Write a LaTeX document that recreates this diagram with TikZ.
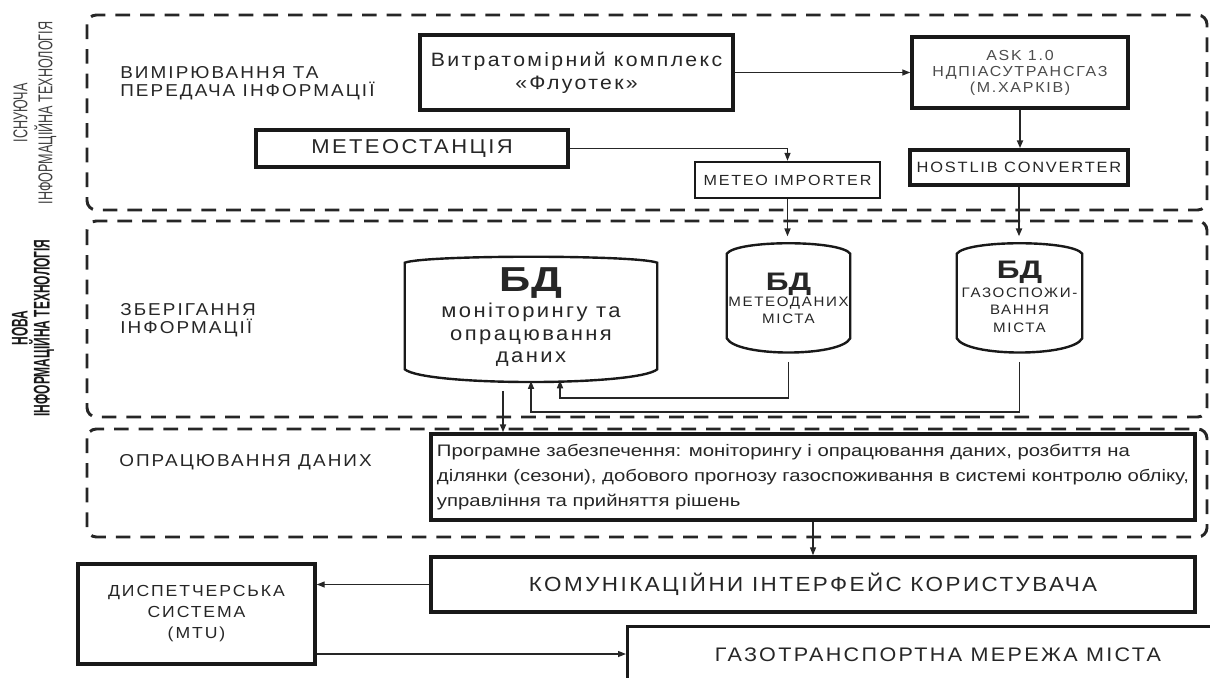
\documentclass[tikz,border=0pt]{standalone}
\usepackage{fontspec}
\setmainfont{Liberation Sans}
\newfontfamily\spacedfont{Liberation Sans}[FakeStretch=1.1, LetterSpace=12]
\newfontfamily\progfont{Liberation Sans}[FakeStretch=1.22]
\newfontfamily\dbheadfont{Liberation Sans Bold}[FakeStretch=1.25]
\newfontfamily\oldtechfont{Liberation Sans}[FakeStretch=0.63]
\newfontfamily\newtechfont{Liberation Sans Bold}[FakeStretch=0.53]
\usetikzlibrary{arrows.meta, positioning, calc}

% barrel outline for a database node: name, top depth, bottom depth
\newcommand{\dbbarrel}[3]{%
  \draw[dbline] ([yshift=-#2]#1.north west) .. controls ($(#1.north west)!0.08!(#1.north east)$) and ($(#1.north west)!0.92!(#1.north east)$) .. ([yshift=-#2]#1.north east)
    -- ([yshift=#3]#1.south east) .. controls ($(#1.south west)!0.92!(#1.south east)$) and ($(#1.south west)!0.08!(#1.south east)$) .. ([yshift=#3]#1.south west) -- cycle;}

\begin{document}
\begin{tikzpicture}[x=0.75pt, y=-0.75pt,
    region/.style={draw=black!85, line width=2.2pt, dash pattern=on 11pt off 7.5pt, rounded corners=7pt},
    box/.style={draw=black!90, line width=2.6pt, rectangle, inner sep=0pt, align=center, text=black!85},
    thinbox/.style={box, line width=1.8pt},
    dbnode/.style={rectangle, inner sep=0pt},
    dbline/.style={draw=black!90, line width=1.8pt},
    dbtext/.style={align=center, text=black!85, inner sep=0pt},
    arr/.style={draw=black!85, line width=1pt, -{Triangle[length=6pt,width=4.5pt]}},
    lbl/.style={font=\spacedfont\fontsize{12.9}{13.3}\selectfont, align=left, anchor=west, text=black!85, inner sep=0pt}
  ]
  \clip (0,0) rectangle (1210,678);

  % Bereiche
  \draw[region] (87,15) rectangle (1207,210);
  \draw[region] (87,221) rectangle (1207,417);
  \draw[region] (87,429) rectangle (1207,537);

  \node[rotate=90, align=center, text=black!75, font=\oldtechfont\fontsize{15}{18.75}\selectfont] (oldtech) at (35,113) {ІСНУЮЧА\\ІНФОРМАЦІЙНА ТЕХНОЛОГІЯ};
  \node[rotate=90, align=center, text=black!90, font=\newtechfont\fontsize{17}{12.75}\selectfont] (newtech) at (33,328) {НОВА\\ІНФОРМАЦІЙНА ТЕХНОЛОГІЯ};

  \node[lbl] (measlbl) at (120,83) {ВИМІРЮВАННЯ ТА\\ПЕРЕДАЧА ІНФОРМАЦІЇ};
  \node[lbl] (storelbl) at (120,320) {ЗБЕРІГАННЯ\\ІНФОРМАЦІЇ};
  \node[lbl] (proclbl) at (119,462) {ОПРАЦЮВАННЯ ДАНИХ};

  % Knoten oben
  \node[box, minimum width=234.75pt, minimum height=56.25pt, font=\spacedfont\fontsize{14.5}{17}\selectfont] (flow) at (576.5,72.5) {Витратомірний комплекс\\«Флуотек»};
  \node[box, minimum width=162pt, minimum height=53.25pt, text=black!70, font=\spacedfont\fontsize{10.9}{12}\selectfont] (ask) at (1020,72.5) {ASK 1.0\\НДПІАСУТРАНСГАЗ\\(М.ХАРКІВ)};
  \node[box, minimum width=163.5pt, minimum height=26.25pt, font=\spacedfont\fontsize{11.2}{12}\selectfont] (host) at (1019,167.5) {HOSTLIB CONVERTER};
  \node[box, minimum width=234pt, minimum height=27.75pt, font=\spacedfont\fontsize{15}{16}\selectfont] (station) at (412,148.5) {МЕТЕОСТАНЦІЯ};
  \node[thinbox, minimum width=138.75pt, minimum height=27pt, font=\spacedfont\fontsize{11}{12}\selectfont] (importer) at (787.5,180) {METEO IMPORTER};

  % Datenbanken
  \node[dbnode, minimum width=189pt, minimum height=98.25pt] (dbmain) at (531,320.5) {};
  \dbbarrel{dbmain}{6pt}{12.75pt}
  \node[dbtext, font=\dbheadfont\fontsize{26}{28}\selectfont] (dbmainhead) at (531,283) {БД};
  \node[dbtext, font=\spacedfont\fontsize{15}{16.9}\selectfont] (dbmainbody) at (531,335) {моніторингу та\\опрацювання\\даних};

  \node[dbnode, minimum width=92.25pt, minimum height=87.75pt] (dbmeteo) at (788.5,298.5) {};
  \dbbarrel{dbmeteo}{10.5pt}{14.25pt}
  \node[dbtext, font=\dbheadfont\fontsize{19}{20}\selectfont] (dbmeteohead) at (788.5,284) {БД};
  \node[dbtext, font=\spacedfont\fontsize{10.3}{12.5}\selectfont] (dbmeteobody) at (788.5,310) {МЕТЕОДАНИХ\\МІСТА};

  \node[dbnode, minimum width=93.75pt, minimum height=87.75pt] (dbgas) at (1019.5,298.5) {};
  \dbbarrel{dbgas}{10.5pt}{14.25pt}
  \node[dbtext, font=\dbheadfont\fontsize{19}{20}\selectfont] (dbgashead) at (1019.5,272) {БД};
  \node[dbtext, font=\spacedfont\fontsize{10.3}{13}\selectfont] (dbgasbody) at (1019.5,310) {ГАЗОСПОЖИ-\\ВАННЯ\\МІСТА};

  % Knoten unten
  \node[box, minimum width=573pt, minimum height=64.5pt, align=left, font=\progfont\fontsize{12.5}{18.75}\selectfont] (prog) at (813,477) {Програмне забезпечення: моніторингу і опрацювання даних, розбиття на\\ділянки (сезони), добового прогнозу газоспоживання в системі контролю обліку,\\управління та прийняття рішень};
  \node[box, minimum width=573pt, minimum height=41.25pt, font=\spacedfont\fontsize{15.3}{16}\selectfont] (komun) at (813,584.5) {КОМУНІКАЦІЙНИ ІНТЕРФЕЙС КОРИСТУВАЧА};
  \node[box, minimum width=177.75pt, minimum height=75pt, font=\spacedfont\fontsize{12}{15.75}\selectfont] (disp) at (196.5,614) {ДИСПЕТЧЕРСЬКА\\СИСТЕМА\\(MTU)};
  \node[box, minimum width=468pt, minimum height=60pt, anchor=north west] (gasnet) at (626,625) {};
  \node[dbtext, font=\spacedfont\fontsize{14.7}{16}\selectfont] (gasnettext) at (938,655) {ГАЗОТРАНСПОРТНА МЕРЕЖА МІСТА};

  % Kanten
  \draw[arr] (flow.east) -- (ask.west);
  \draw[arr, line width=1.5pt] (ask.south) -- (ask.south |- host.north);
  \draw[arr] (station.east) -| (importer.north);
  \draw[arr, line width=1.2pt, shorten >=2.5pt] (importer.south) -- (importer.south |- dbmeteo.north);
  \draw[arr, line width=1.5pt, shorten >=2.5pt] (host.south) -- (host.south |- dbgas.north);
  \draw[arr, line width=1.2pt, shorten <=3.5pt] (dbmeteo.south) -- ++(0,41) -| ([xshift=21.75pt,yshift=4.5pt]dbmain.south);
  \draw[arr, line width=1.2pt, shorten <=3.5pt] (dbgas.south) -- ++(0,55) -| ([yshift=4pt]dbmain.south);
  \draw[arr, line width=1.5pt, shorten <=3.5pt] ([xshift=-21pt]dbmain.south) -- ([xshift=-21pt]dbmain.south |- prog.north);
  \draw[arr] (prog.south) -- (prog.south |- komun.north);
  \draw[arr] (komun.west) -- (komun.west -| disp.east);
  \draw[arr] ([yshift=-30pt]disp.east) -- ([yshift=-30pt]disp.east -| gasnet.west);
\end{tikzpicture}
\end{document}
